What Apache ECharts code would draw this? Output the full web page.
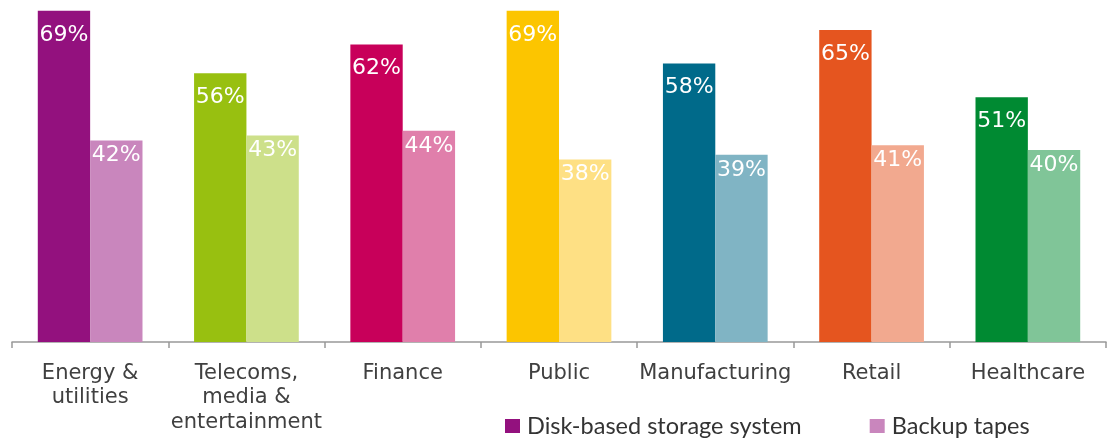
<!DOCTYPE html>
<html>
<head>
<meta charset="utf-8">
<script src="https://cdn.jsdelivr.net/npm/echarts@6/dist/echarts.min.js"></script>
<style>
    html, body {margin:0; padding:0; background:#fff;}
    #chart {width:1109px; height:438px;}
</style>
</head>
<body>
<div id="chart"></div>
<script>
var categories = ['Energy &\nutilities', 'Telecoms,\nmedia &\nentertainment', 'Finance', 'Public', 'Manufacturing', 'Retail', 'Healthcare'];
var diskValues = [69, 56, 62, 69, 58, 65, 51];
var tapeValues = [42, 43, 44, 38, 39, 41, 40];
var darkColors = ['#93117e', '#98c010', '#c8005a', '#fcc500', '#006a8a', '#e5551f', '#008a32'];
var lightColors = ['#c986bd', '#cde08a', '#e07fab', '#fee084', '#80b4c4', '#f2a98f', '#80c598'];

var dom = document.getElementById('chart');
var myChart = echarts.init(dom);

function coloured(values, colors){
    var out = [];
    for(var i=0; i<values.length; i++){
        out.push({value: values[i], itemStyle: {color: colors[i]}});
    }
    return out;
}

var labelBase = {
    show: true,
    position: 'insideTop',
    color: '#fff',
    fontFamily: 'DejaVu Sans',
    fontSize: 22,
    formatter: '{c}%'
};

var option = {
    animation: false,
    grid: {left: 12, right: 3, top: 6, bottom: 96, containLabel: false},
    legend: {
        data: ['Disk-based storage system', 'Backup tapes'],
        left: 500,
        top: 409,
        icon: 'rect',
        itemWidth: 15,
        itemHeight: 14,
        itemGap: 68,
        textStyle: {color: '#333', fontFamily: 'Lato', fontSize: 23.5, padding: [0, 0, 0, 2]}
    },
    xAxis: {
        type: 'category',
        data: categories,
        axisLine: {show: true, lineStyle: {color: '#999', width: 1.5}},
        axisTick: {show: true, length: 6, lineStyle: {color: '#999', width: 1.5}},
        axisLabel: {margin: 19, color: '#404040', fontFamily: 'DejaVu Sans', fontSize: 21, lineHeight: 24.5, interval: 0}
    },
    yAxis: {
        type: 'value',
        min: 0,
        max: 70,
        show: false
    },
    series: [
        {
            name: 'Disk-based storage system',
            type: 'bar',
            barGap: '0%',
            barCategoryGap: '33%',
            itemStyle: {color: '#93117e'},
            label: Object.assign({}, labelBase, {distance: 13}),
            data: coloured(diskValues, darkColors)
        },
        {
            name: 'Backup tapes',
            type: 'bar',
            barGap: '0%',
            barCategoryGap: '33%',
            itemStyle: {color: '#c986bd'},
            label: Object.assign({}, labelBase, {distance: 4}),
            data: coloured(tapeValues, lightColors)
        }
    ]
};
myChart.setOption(option, true);
</script>
</body>
</html>
